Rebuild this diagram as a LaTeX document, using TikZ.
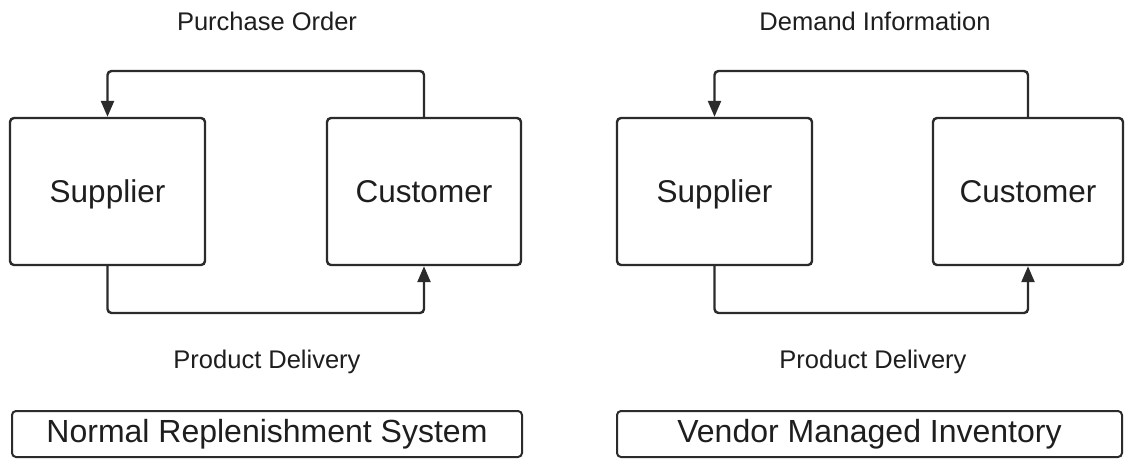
\documentclass[tikz,border=0pt]{standalone}
\usepackage{fontspec}
\setmainfont{Liberation Sans}
\usetikzlibrary{arrows.meta}
\definecolor{ink}{HTML}{2B2B2B}
\definecolor{textink}{HTML}{1E1E1E}
\tikzset{
  actor/.style={draw=ink, line width=2.4pt, rounded corners=4pt,
    minimum width=195pt, minimum height=147pt, inner sep=0pt,
    text height=22.5pt, text depth=0pt,
    text=textink, font=\fontsize{31.5}{36}\selectfont},
  titlebox/.style={draw=ink, line width=2pt, rounded corners=4pt,
    minimum height=46pt, inner sep=0pt,
    text=textink, font=\fontsize{32}{36}\selectfont},
  flowlabel/.style={text=textink, font=\fontsize{25.5}{30}\selectfont, inner sep=0pt},
  flow/.style={draw=ink, line width=2.4pt, rounded corners=4pt,
    -{Triangle[length=16pt,width=13pt]}}
}
\begin{document}
\begin{tikzpicture}[x=1pt, y=-1pt]
  \useasboundingbox[fill=white] (0,0) rectangle (1125,459);

  % Normal replenishment
  \node[actor] (sl) at (107.5,191.5) {Supplier};
  \node[actor, minimum width=194pt] (cl) at (424,191.5) {Customer};
  \coordinate (topl) at (0,71);
  \coordinate (botl) at (0,313);
  \draw[flow] (cl.north) -- (cl.north |- topl) -| (sl.north);
  \draw[flow] (sl.south) -- (sl.south |- botl) -| (cl.south);
  \node[flowlabel] (pol) at (267,21.5) {Purchase Order};
  \node[flowlabel] (pdl) at (267,361.5) {Product Delivery};
  \node[titlebox, minimum width=510pt] (nrs) at (267,434) {Normal Replenishment System};

  % Vendor managed inventory
  \node[actor] (sr) at (714.5,191.5) {Supplier};
  \node[actor, minimum width=190pt] (cr) at (1028,191.5) {Customer};
  \coordinate (topr) at (0,71);
  \coordinate (botr) at (0,313);
  \draw[flow] (cr.north) -- (cr.north |- topr) -| (sr.north);
  \draw[flow] (sr.south) -- (sr.south |- botr) -| (cr.south);
  \node[flowlabel] (dir) at (875,21.5) {Demand Information};
  \node[flowlabel] (pdr) at (873,361.5) {Product Delivery};
  \node[titlebox, minimum width=505pt] (vmi) at (869.5,434) {Vendor Managed Inventory};
\end{tikzpicture}
\end{document}
